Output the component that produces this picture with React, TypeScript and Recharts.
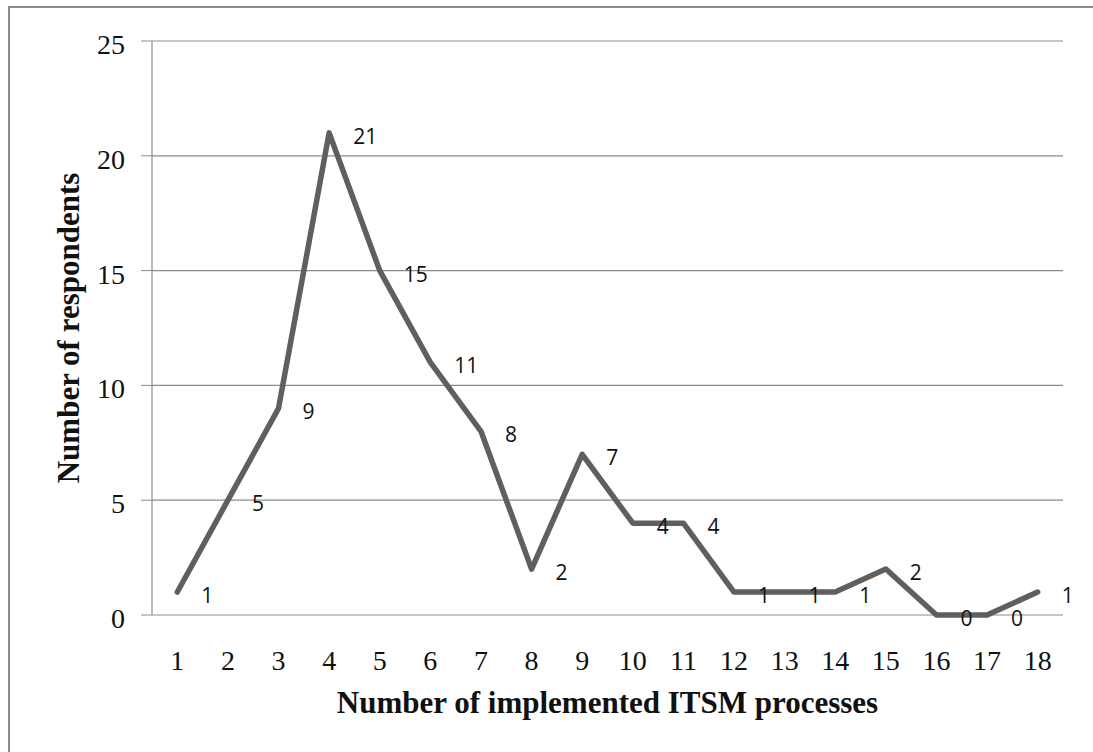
import React from 'react';
import {
  LineChart,
  Line,
  XAxis,
  YAxis,
  CartesianGrid,
  LabelList,
} from 'recharts';

// Number of implemented ITSM processes (1..18) and respondent counts
const PROCESS_COUNTS = [1, 2, 3, 4, 5, 6, 7, 8, 9, 10, 11, 12, 13, 14, 15, 16, 17, 18];
const RESPONDENTS = [1, 5, 9, 21, 15, 11, 8, 2, 7, 4, 4, 1, 1, 1, 2, 0, 0, 1];
const Y_TICKS = [0, 5, 10, 15, 20, 25];
// tick marks sit between categories, Excel style
const BOUNDARY_TICKS = [
  0.5, 1.5, 2.5, 3.5, 4.5, 5.5, 6.5, 7.5, 8.5, 9.5,
  10.5, 11.5, 12.5, 13.5, 14.5, 15.5, 16.5, 17.5, 18.5,
];

const data = PROCESS_COUNTS.map((x, i) => ({ x, respondents: RESPONDENTS[i] }));

const SERIF = '"Liberation Serif", "Times New Roman", serif';
const AXIS_GRAY = '#8c8c8c';
const TITLE_STYLE = { fontSize: 31, fontFamily: SERIF, fontWeight: 'bold', fill: '#111' };

const renderValue = (props: any) => {
  const { x, y, value } = props;
  return (
    <text
      x={x + 24}
      y={y + 11}
      fontSize={21}
      fontFamily='"Open Sans", sans-serif'
      fill="#111"
    >
      {value}
    </text>
  );
};

export default function App() {
  return (
    <div
      style={{
        position: 'absolute',
        left: 0,
        top: 0,
        width: 1093,
        height: 752,
        overflow: 'hidden',
        background: '#fff',
      }}
    >
      <div
        style={{
          position: 'absolute',
          left: 8,
          top: 6,
          width: 1200,
          height: 900,
          borderTop: `2px solid ${AXIS_GRAY}`,
          borderLeft: `2px solid ${AXIS_GRAY}`,
        }}
      />
      <div style={{ position: 'absolute', left: 0, top: 0 }}>
        <LineChart
          width={1093}
          height={752}
          data={data}
          margin={{ top: 41, right: 30, left: 0, bottom: 37 }}
        >
          <CartesianGrid vertical={false} stroke={AXIS_GRAY} strokeWidth={1.2} />
          <XAxis
            xAxisId="bounds"
            dataKey="x"
            type="number"
            domain={[0.5, 18.5]}
            ticks={BOUNDARY_TICKS}
            interval={0}
            height={0}
            tick={false}
            tickSize={6}
            tickLine={{ stroke: AXIS_GRAY }}
            axisLine={{ stroke: AXIS_GRAY, strokeWidth: 1.2 }}
          />
          <XAxis
            dataKey="x"
            type="number"
            domain={[0.5, 18.5]}
            ticks={PROCESS_COUNTS}
            interval={0}
            height={100}
            axisLine={false}
            tickLine={false}
            tickMargin={29}
            tick={{ fontSize: 28, fontFamily: SERIF, fill: '#111' }}
            label={{
              value: 'Number of implemented ITSM processes',
              position: 'insideBottom',
              offset: 2,
              style: TITLE_STYLE,
            }}
          />
          <YAxis
            domain={[0, 25]}
            ticks={Y_TICKS}
            interval={0}
            width={152}
            tickSize={11}
            tickMargin={16}
            axisLine={{ stroke: AXIS_GRAY, strokeWidth: 1.2 }}
            tickLine={{ stroke: AXIS_GRAY }}
            tick={{ fontSize: 28, fontFamily: SERIF, fill: '#111', dy: 3 }}
            label={{
              value: 'Number of respondents',
              angle: -90,
              position: 'center',
              dx: -8,
              style: TITLE_STYLE,
            }}
          />
          <Line
            type="linear"
            dataKey="respondents"
            stroke="#5f5f5f"
            strokeWidth={5.5}
            strokeLinecap="round"
            strokeLinejoin="round"
            dot={false}
            activeDot={false}
            isAnimationActive={false}
          >
            <LabelList dataKey="respondents" content={renderValue} />
          </Line>
        </LineChart>
      </div>
    </div>
  );
}
